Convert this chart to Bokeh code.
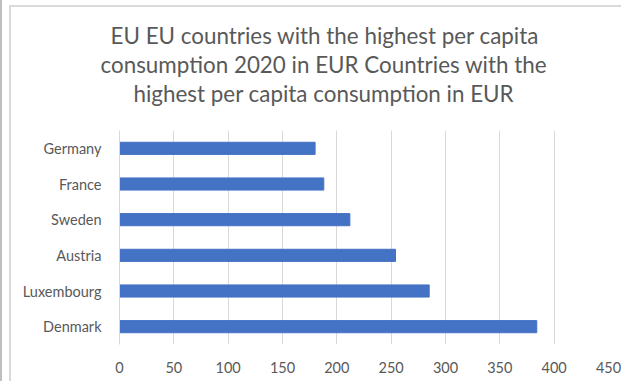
from bokeh.plotting import figure
from bokeh.models import Title, Range1d, FactorRange, InlineStyleSheet
from bokeh.embed import file_html
from bokeh.resources import INLINE

countries = ["Denmark", "Luxembourg", "Austria", "Sweden", "France", "Germany"]
values = [384, 285, 254, 212, 188, 180]
x_ticks = [0, 50, 100, 150, 200, 250, 300, 350, 400, 450]
title_lines = [
    "EU EU countries with the highest per capita",
    "consumption 2020 in EUR  Countries with the",
    "highest per capita consumption in EUR",
]
title_offsets = [-9, -19, 14]

p = figure(width=621, height=381, y_range=FactorRange(*countries),
           x_range=Range1d(0, 450), output_backend="svg", toolbar_location=None,
           min_border_left=119, min_border_right=13, min_border_top=130, min_border_bottom=37)
p.hbar(y=countries, right=values, left=0, height=0.34, color="#4472C4")

p.outline_line_color = None
p.background_fill_color = "white"
p.border_fill_color = "white"
p.ygrid.grid_line_color = None
p.xgrid.grid_line_color = "#d9d9d9"
p.xgrid.grid_line_width = 1
p.xaxis.ticker = x_ticks
for ax in (p.xaxis[0], p.yaxis[0]):
    ax.axis_line_color = None
    ax.major_tick_line_color = None
    ax.minor_tick_line_color = None
    ax.major_label_text_color = "#595959"
    ax.major_label_text_font = "Lato"
    ax.major_label_text_font_size = "14.5px"
p.yaxis.axis_line_color = "#d9d9d9"
p.xaxis.major_label_standoff = 11
p.yaxis.major_label_standoff = 12

# spacer between frame and title block
p.add_layout(Title(text="\u00a0", standoff=12, text_font_size="9px",
                   text_line_height=0.9, text_color="white"), "above")
for i in reversed(range(len(title_lines))):
    p.add_layout(Title(text=title_lines[i], align="left", offset=title_offsets[i],
                       standoff=0, text_line_height=0.9,
                       text_color="#595959", text_font="Lato",
                       text_font_size="22.4px", text_font_style="normal"), "above")

p.stylesheets = [InlineStyleSheet(css="""
:host { position: relative; }
:host::after { content: ''; position: absolute; left: 9px; top: 5px; width: 700px; height: 500px;
  border: 2px solid #d9d9d9; pointer-events: none; z-index: 10; box-sizing: border-box; }
:host::before { content: ''; position: absolute; left: 0; top: 0; width: 2px; height: 381px;
  background: #bfbfbf; z-index: 10; }
""")]

open("out.html", "w").write(file_html(p, INLINE))
